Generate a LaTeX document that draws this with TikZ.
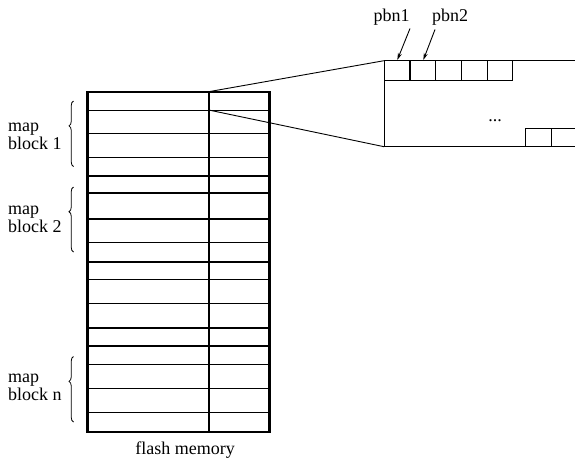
\documentclass[tikz,border=0pt]{standalone}
\usepackage{fontspec}
\setmainfont{Liberation Serif}
\usetikzlibrary{arrows.meta,decorations.pathreplacing}
\begin{document}
\begin{tikzpicture}[x=1pt,y=-1pt,
  thin line/.style={line width=0.9pt},
  thick line/.style={line width=2.2pt},
  lbl/.style={font=\fontsize{18}{17.7}\selectfont, inner sep=0pt},
  blocklbl/.style={lbl, align=left, anchor=west},
  bracestyle/.style={line width=0.8pt, decorate, decoration={brace, amplitude=4.5pt, aspect=0.62}},
  ptr/.style={line width=0.9pt, -{Stealth[length=7pt,width=4pt]}},
  zoomline/.style={line width=0.9pt}]
\useasboundingbox (0,0) rectangle (575,466);
% --- flash memory grid ---
\coordinate (TL) at (87.5,91.7);
\coordinate (BR) at (269.5,431.7);
\coordinate (DT) at (208.7,91.7);
\coordinate (DB) at (208.7,431.7);
% thin row lines
\foreach \y in {110,133.3,157.7,242.7,279.3,303.3,364.3,388.3,412.7}
  \draw[thin line] (87.5,\y) -- (269.5,\y);
% thick row lines
\foreach \y in {175.7,193.3,219,261.7,327.7,345.7}
  \draw[thick line] (87.5,\y) -- (269.5,\y);
\draw[thick line] (DT) -- (DB);
\draw[thick line] (TL) rectangle (BR);
% --- zoom box ---
\coordinate (ZTL) at (384,60.7);
\coordinate (ZBL) at (384,146.7);
\coordinate (ZTR) at (578,60.7);
\coordinate (ZBR) at (578,146.7);
\draw[thin line] (ZTR) -- (ZTL) -- (ZBL) -- (ZBR);
\foreach \x in {384,410,435.7,461.7,487.3}
  \draw[thin line] (\x,60.7) rectangle ++(25.6,19.3);
\draw[thin line] (525.7,128.3) rectangle (551.7,146.7);
\draw[thin line] (551.7,128.3) rectangle (580,146.7);
\node[lbl] (dots) at (495,121) {...};
% --- zoom connectors ---
\coordinate (R1) at (208.7,110);
\draw[zoomline] (DT) -- (ZTL);
\draw[zoomline] (R1) -- (ZBL);
% --- pbn labels and arrows ---
\node[lbl] (pbn1) at (391.7,17) {pbn1};
\node[lbl] (pbn2) at (450,17) {pbn2};
\coordinate (a1) at (397.3,60);
\coordinate (a2) at (423.3,60);
\draw[ptr] (410,28.5) -- (a1);
\draw[ptr] (435,29.5) -- (a2);
% --- braces ---
\draw[bracestyle] (73.5,166.5) -- (73.5,101) node[coordinate] (b1) {};
\draw[bracestyle] (73.5,252) -- (73.5,187) node[coordinate] (b2) {};
\draw[bracestyle] (73.5,422) -- (73.5,356.5) node[coordinate] (bn) {};
\node[blocklbl] (m1) at (8,136) {map\\block 1};
\node[blocklbl] (m2) at (8,219) {map\\block 2};
\node[blocklbl] (mn) at (8,387) {map\\block n};
% --- caption ---
\node[lbl] (cap) at (185,450) {flash memory};
\end{tikzpicture}
\end{document}
